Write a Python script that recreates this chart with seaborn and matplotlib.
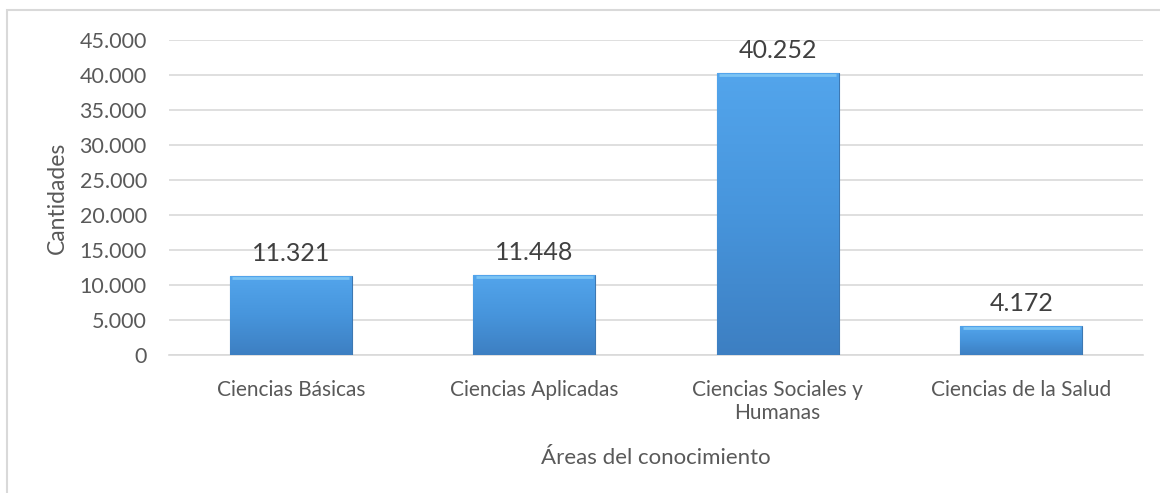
import numpy as np
import pandas as pd
import matplotlib
matplotlib.use('Agg')
import matplotlib.pyplot as plt
from matplotlib.colors import LinearSegmentedColormap
from matplotlib.patches import Rectangle
from matplotlib.ticker import FuncFormatter
import seaborn as sns

# datos del grafico
areas = ['Ciencias Básicas', 'Ciencias Aplicadas', 'Ciencias Sociales y\nHumanas', 'Ciencias de la Salud']
cantidades = [11321, 11448, 40252, 4172]
etiquetas = ['11.321', '11.448', '40.252', '4.172']

TEXT = '#595959'
GRID = '#d9d9d9'

sns.set_theme(style='white')
plt.rcParams['font.family'] = ['Lato', 'DejaVu Sans']

df = pd.DataFrame({'area': areas, 'cantidad': cantidades})

fig = plt.figure(figsize=(11.6, 4.93), dpi=100)
ax = fig.add_axes([0.1457, 0.2799, 0.8396, 0.6390])

sns.barplot(data=df, x='area', y='cantidad', color='#4a90d9', width=0.5,
            saturation=1, ax=ax, zorder=3)

ax.set_ylim(0, 45000)
ax.set_yticks(np.arange(0, 45001, 5000))
ax.yaxis.set_major_formatter(FuncFormatter(lambda v, p: f'{int(v):,}'.replace(',', '.')))
ax.grid(axis='y', color=GRID, lw=1.2, zorder=0)
ax.set_axisbelow(True)
for s in ax.spines.values():
    s.set_visible(False)
ax.spines['bottom'].set_visible(True)
ax.spines['bottom'].set_color(GRID)
ax.spines['bottom'].set_linewidth(1.2)

ax.tick_params(axis='y', labelsize=15.5, colors=TEXT, length=0, pad=16)
ax.tick_params(axis='x', labelsize=15, colors=TEXT, length=0, pad=18)
ax.set_xlabel('Áreas del conocimiento', fontsize=16, color=TEXT, labelpad=18)
ax.set_ylabel('Cantidades', fontsize=16.5, color=TEXT, labelpad=8)

# degradado en las barras
cmap = LinearSegmentedColormap.from_list('azul', ['#3d7fc2', '#4795dc', '#53a5ec'])
grad = np.linspace(0, 1, 256).reshape(-1, 1)
for patch, lab in zip(ax.patches, etiquetas):
    x0 = patch.get_x()
    w = patch.get_width()
    h = patch.get_height()
    patch.set_facecolor('none')
    patch.set_edgecolor('#3d78b2')
    patch.set_linewidth(0.8)
    im = ax.imshow(grad, cmap=cmap, origin='lower', aspect='auto',
                   extent=(x0, x0 + w, 0, h), zorder=3)
    im.set_clip_path(patch)
    # borde superior claro
    ax.plot([x0 + 0.01, x0 + w - 0.01], [h - 250, h - 250], color='#7cc4f4',
            lw=2, zorder=4, solid_capstyle='butt')
    ax.text(x0 + w / 2, h + 1600, lab, ha='center', va='bottom',
            fontsize=18, color='#404040', zorder=4)

ax.set_xlim(-0.5, len(areas) - 0.5)

# marco del grafico
fig.patches.append(Rectangle((7 / 1160, -0.05), 1.1, 1 - 10 / 493 + 0.05,
                             transform=fig.transFigure, fill=False,
                             edgecolor=GRID, lw=1.5))

fig.savefig('out.png', dpi=100)
